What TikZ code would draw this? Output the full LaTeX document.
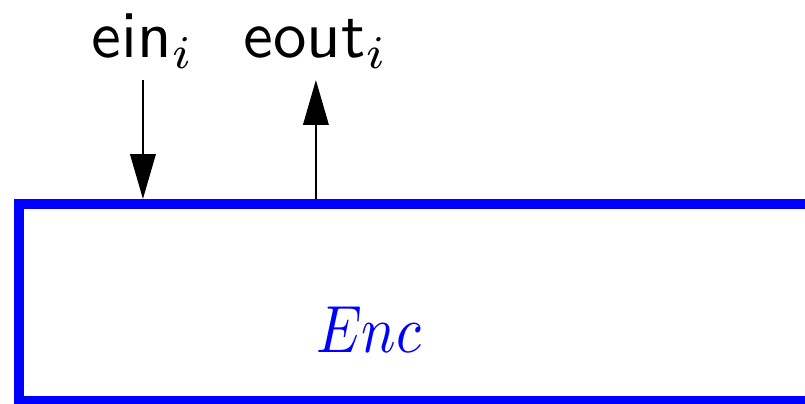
\documentclass[tikz,border=0pt]{standalone}
\usepackage{tikz}
\usetikzlibrary{arrows.meta,positioning}
\definecolor{encblue}{RGB}{0,0,255}
\newcommand{\narrow}[1]{\scalebox{0.86}[1]{#1}}

\begin{document}
\begin{tikzpicture}[
  font=\sffamily,
  box/.style={draw=encblue,line width=1.5pt,inner sep=0pt,
              minimum width=4.63cm,minimum height=1.036cm},
  arr/.style={line width=0.32pt,-{Triangle[length=6.7pt,width=3.8pt]}},
  lbl/.style={anchor=base,inner sep=0pt},
  ]
  \useasboundingbox (0,0) rectangle (4.235,2.125);
  \node[box] (enc) at (2.415,0.534) {};
  \node[lbl,text=encblue] (name) at (1.94,0.268) {\narrow{$Enc$}};
  \coordinate (inTop)  at (0.752,1.704);
  \coordinate (outTop) at (1.662,1.704);
  \node[lbl] (ein)  at (0.752,1.82) {ein$_i$};
  \node[lbl] (eout) at (1.662,1.82) {eout$_i$};
  \draw[arr] (inTop) -- (inTop |- enc.north);
  \draw[arr] (outTop |- enc.north) -- (outTop);
\end{tikzpicture}
\end{document}
